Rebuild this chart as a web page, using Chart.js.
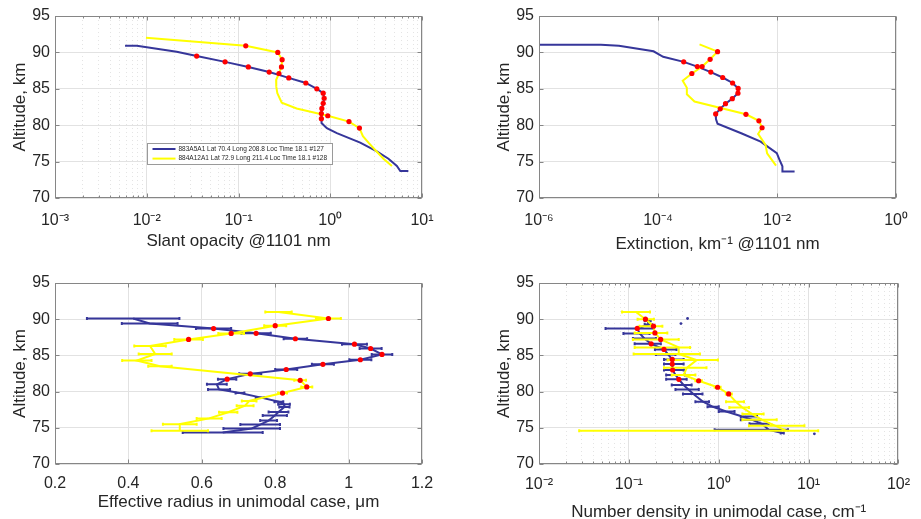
<!DOCTYPE html>
<html>
<head>
<meta charset="utf-8">
<script src="https://cdn.jsdelivr.net/npm/chart.js@4.4.0/dist/chart.umd.min.js"></script>
<style>
  html, body { margin: 0; padding: 0; background: #fff; width: 921px; height: 519px; overflow: hidden; }
  canvas { position: absolute; left: 0; top: 0; }
</style>
</head>
<body>
<canvas id="opacityChart" width="921" height="560"></canvas>
<canvas id="extinctionChart" width="921" height="560"></canvas>
<canvas id="radiusChart" width="921" height="560"></canvas>
<canvas id="densityChart" width="921" height="560"></canvas>
<script>
// profile names (legend)
const profileNames = [
  '883A5A1 Lat 70.4 Long 208.8 Loc Time 18.1 #127',
  '884A12A1 Lat 72.9 Long 211.4 Loc Time 18.1 #128'
];

// tick values and labels
const altTicks = [70, 75, 80, 85, 90, 95];
const altLabels = ['70', '75', '80', '85', '90', '95'];
const opacityTicks = [1e-3, 1e-2, 1e-1, 1, 10];
const opacityLabels = ['10⁻³', '10⁻²', '10⁻¹', '10⁰', '10¹'];
const extinctionTicks = [1e-6, 1e-4, 1e-2, 1];
const extinctionLabels = ['10⁻⁶', '10⁻⁴', '10⁻²', '10⁰'];
const radiusTicks = [0.2, 0.4, 0.6, 0.8, 1, 1.2];
const radiusLabels = ['0.2', '0.4', '0.6', '0.8', '1', '1.2'];
const densityTicks = [1e-2, 1e-1, 1, 10, 100];
const densityLabels = ['10⁻²', '10⁻¹', '10⁰', '10¹', '10²'];

// slant opacity
const opacityBlueAlt = [90.9, 90.9, 90.1, 89.5, 88.7, 88.0, 87.3, 86.5, 85.8, 85.0, 84.4, 83.7, 83.0, 82.3, 81.6, 80.9, 80.3, 79.6, 78.9, 77.6, 76.4, 75.4, 74.4, 73.7, 73.7];
const opacityBlueVal = [0.0058, 0.0078, 0.0212, 0.035, 0.0714, 0.128, 0.216, 0.353, 0.542, 0.714, 0.838, 0.858, 0.838, 0.81, 0.80, 0.80, 0.81, 0.918, 1.18, 2.12, 3.22, 4.31, 5.32, 5.8, 7.1];
const opacityBlueMarked = [3, 4, 5, 6, 7, 8, 9, 10, 11, 12, 13, 14, 15];
const opacityYellowAlt = [92.0, 90.9, 90.0, 89.0, 88.0, 87.1, 86.2, 85.3, 84.4, 83.1, 82.3, 81.3, 80.5, 79.6, 78.5, 77.6, 76.6, 75.4, 74.4];
const opacityYellowVal = [0.0098, 0.12, 0.268, 0.299, 0.294, 0.276, 0.257, 0.258, 0.265, 0.296, 0.43, 0.94, 1.6, 2.08, 2.27, 2.61, 3.09, 3.8, 4.7];
const opacityYellowMarked = [1, 2, 3, 4, 5, 11, 12, 13];

// extinction
const extBlueAlt = [91.05, 91.05, 90.9, 90.15, 89.4, 88.7, 88.05, 87.3, 86.55, 85.8, 85.05, 84.4, 83.65, 82.95, 82.25, 81.55, 80.85, 80.2, 78.9, 77.75, 76.15, 75.25, 74.35, 73.65, 73.65];
const extBlueVal = [1.0e-6, 1.1e-5, 2.2e-5, 8.4e-5, 1.22e-4, 2.7e-4, 4.57e-4, 7.7e-4, 1.22e-3, 1.79e-3, 2.22e-3, 2.2e-3, 1.77e-3, 1.36e-3, 1.11e-3, 9.3e-4, 9.4e-4, 1.0e-3, 2.5e-3, 5.3e-3, 9.9e-3, 1.1e-2, 1.23e-2, 1.23e-2, 1.97e-2];
const extBlueMarked = [5, 6, 7, 8, 9, 10, 11, 12, 13, 14, 15];
const extYellowAlt = [91.1, 90.1, 89.05, 88.05, 87.1, 86.1, 85.15, 84.25, 83.25, 81.5, 80.6, 79.65, 78.8, 77.3, 76.15, 74.45];
const extYellowVal = [4.98e-4, 1.0e-3, 7.5e-4, 5.5e-4, 3.7e-4, 2.6e-4, 3.05e-4, 3.05e-4, 4.1e-4, 3.0e-3, 4.95e-3, 5.6e-3, 4.8e-3, 6.4e-3, 6.8e-3, 9.6e-3];
const extYellowMarked = [1, 2, 3, 4, 9, 10, 11];

// effective radius (value +- error)
const radBlueAlt = [90.1, 89.4, 88.7, 88.05, 87.3, 86.55, 85.95, 85.14, 84.4, 83.77, 83.05, 82.45, 81.72, 81.0, 80.3, 79.8, 79.2, 78.6, 78.27, 77.86, 77.18, 76.7, 76.0, 75.45, 74.9, 74.35];
const radBlueVal = [0.413, 0.458, 0.632, 0.748, 0.855, 1.016, 1.06, 1.091, 1.032, 0.93, 0.83, 0.732, 0.669, 0.641, 0.647, 0.704, 0.759, 0.81, 0.824, 0.825, 0.809, 0.799, 0.782, 0.759, 0.736, 0.657];
const radBlueErr = [0.126, 0.076, 0.048, 0.04, 0.032, 0.034, 0.03, 0.028, 0.03, 0.03, 0.03, 0.03, 0.025, 0.027, 0.03, 0.012, 0.012, 0.012, 0.016, 0.014, 0.027, 0.033, 0.023, 0.054, 0.077, 0.109];
const radBlueMarked = [2, 3, 4, 5, 6, 7, 8, 9, 10, 11, 12];
const radYellowAlt = [91.0, 90.1, 89.1, 88.04, 87.2, 86.3, 85.2, 84.3, 83.5, 81.56, 80.65, 79.8, 78.7, 78.05, 77.14, 76.3, 75.5, 74.6];
const radYellowVal = [0.809, 0.945, 0.80, 0.68, 0.564, 0.459, 0.473, 0.423, 0.486, 0.868, 0.886, 0.82, 0.729, 0.718, 0.672, 0.62, 0.54, 0.54];
const radYellowErr = [0.036, 0.034, 0.03, 0.035, 0.039, 0.043, 0.045, 0.04, 0.032, 0.016, 0.015, 0.012, 0.02, 0.023, 0.025, 0.034, 0.046, 0.077];
const radYellowMarked = [1, 2, 3, 4, 9, 10, 11];

// number density (value with lower / upper bound)
const denBlueAlt = [89.77, 89.27, 88.72, 88.03, 87.34, 86.6, 85.83, 85.14, 84.45, 83.8, 82.98, 82.3, 81.7, 80.92, 80.3, 79.68, 78.6, 77.9, 77.25, 76.56, 76.1, 75.55, 74.72, 74.27];
const denBlueVal = [0.162, 0.165, 0.124, 0.132, 0.149, 0.177, 0.246, 0.273, 0.304, 0.304, 0.307, 0.331, 0.36, 0.406, 0.46, 0.522, 0.67, 0.863, 1.21, 1.83, 2.36, 3.03, 3.6, 5.1];
const denBlueLo = [0.15, 0.15, 0.055, 0.087, 0.111, 0.116, 0.195, 0.2, 0.246, 0.246, 0.246, 0.26, 0.26, 0.3, 0.33, 0.4, 0.55, 0.75, 1.0, 1.76, 1.76, 2.2, 0.9, 4.9];
const denBlueHi = [0.175, 0.18, 0.19, 0.17, 0.2, 0.227, 0.339, 0.33, 0.407, 0.407, 0.41, 0.42, 0.44, 0.5, 0.6, 0.66, 0.78, 1.0, 1.5, 2.67, 2.9, 3.6, 5.9, 5.3];
const denBlueMarked = [2, 5, 6, 8, 9, 10, 12];
const denBlueLoneAlt = [90.1, 89.4, 74.17];
const denBlueLoneVal = [0.45, 0.38, 11.6];
const denYellowAlt = [91.0, 90.0, 89.04, 88.1, 87.2, 86.1, 85.2, 84.36, 83.3, 82.3, 81.5, 80.6, 79.68, 78.6, 77.8, 76.9, 76.1, 75.3, 74.6];
const denYellowVal = [0.12, 0.153, 0.188, 0.195, 0.226, 0.359, 0.359, 0.569, 0.443, 0.407, 0.598, 0.971, 1.29, 1.55, 1.83, 2.36, 3.03, 4.23, 5.6];
const denYellowLo = [0.084, 0.125, 0.131, 0.116, 0.111, 0.116, 0.113, 0.27, 0.246, 0.3, 0.55, 0.9, 1.2, 1.207, 1.313, 1.834, 1.834, 2.17, 0.028];
const denYellowHi = [0.172, 0.19, 0.236, 0.268, 0.359, 0.48, 0.618, 0.98, 0.731, 0.55, 0.65, 1.05, 1.4, 1.91, 2.17, 3.16, 4.42, 8.99, 12.8];
const denYellowMarked = [1, 2, 3, 4, 10, 11, 12];

// styling
const FONT = '"Liberation Sans", Arial, Helvetica, sans-serif';
const TEXT = '#262626';
const BLUE = '#36369a';
const YELLOW = '#ffff00';
const RED = '#ff0000';
const FRAME = '#868686';
const MAJOR_GRID = '#e2e2e2';
const MINOR_GRID = '#e4e4e4';
const CANVAS_W = 921, CANVAS_H = 560;

function pts(alts, vals) {
  return alts.map((a, i) => ({x: vals[i], y: a}));
}
function pick(alts, vals, idx) {
  return idx.map(i => ({x: vals[i], y: alts[i]}));
}

function tickList(values, withMinor) {
  return axis => {
    const list = values.map(v => ({value: v}));
    if (withMinor) {
      for (let i = 0; i < values.length - 1; i++) {
        for (let k = 2; k <= 9; k++) list.push({value: values[i] * k, minor: true});
      }
    }
    list.sort((a, b) => a.value - b.value);
    axis.ticks = list;
  };
}
function tickLabel(values, labels) {
  return v => {
    const i = values.findIndex(t => Math.abs(t - v) <= Math.abs(t) * 1e-9);
    return i < 0 ? '' : labels[i];
  };
}

const gridOpts = {
  drawTicks: false,
  lineWidth: 1,
  color: ctx => (ctx.tick && ctx.tick.minor) ? MINOR_GRID : MAJOR_GRID
};
const borderOpts = {
  display: false,
  dash: ctx => (ctx.tick && ctx.tick.minor) ? [1, 3] : []
};

function altitudeAxis() {
  return {
    type: 'linear', min: 70, max: 95,
    afterBuildTicks: tickList(altTicks, false),
    afterFit: s => { s.width = 55; },
    ticks: {autoSkip: false, padding: 5, color: TEXT, font: {family: FONT, size: 16}, callback: tickLabel(altTicks, altLabels)},
    grid: gridOpts,
    border: borderOpts,
    title: {display: true, text: 'Altitude, km', color: TEXT, font: {family: FONT, size: 17}, padding: {top: 9.8, bottom: 0}}
  };
}

function valueAxis(type, min, max, values, labels, withMinor, title, area, titleY, tickPad) {
  return {
    type, min, max, position: 'bottom',
    afterBuildTicks: tickList(values, withMinor),
    afterFit: s => { s.height = CANVAS_H - area.b; },
    ticks: {autoSkip: false, maxRotation: 0, padding: tickPad, color: TEXT, font: {family: FONT, size: 16}, callback: tickLabel(values, labels)},
    grid: gridOpts,
    border: borderOpts,
    title: {display: true, text: title, color: TEXT, font: {family: FONT, size: 17}, padding: {top: 0, bottom: CANVAS_H - titleY - 10.2}}
  };
}

// horizontal error bars with small caps
const errorBarPlugin = {
  id: 'errorBars',
  beforeDatasetDraw(chart, args) {
    const ds = chart.data.datasets[args.index];
    if (!ds.errLo) return;
    const {ctx, chartArea: a, scales: {x, y}} = chart;
    ctx.save();
    ctx.beginPath();
    ctx.rect(a.left, a.top, a.width, a.height);
    ctx.clip();
    ctx.strokeStyle = ds.borderColor;
    ctx.lineWidth = ds.borderWidth;
    ds.data.forEach((p, i) => {
      const py = y.getPixelForValue(p.y);
      const x1 = x.getPixelForValue(ds.errLo[i]);
      const x2 = x.getPixelForValue(ds.errHi[i]);
      ctx.beginPath();
      ctx.moveTo(x1, py); ctx.lineTo(x2, py);
      ctx.moveTo(x1, py - 1.5); ctx.lineTo(x1, py + 1.5);
      ctx.moveTo(x2, py - 1.5); ctx.lineTo(x2, py + 1.5);
      ctx.stroke();
    });
    ctx.restore();
  }
};

// box around the axes with inward ticks
const framePlugin = {
  id: 'frame',
  afterDraw(chart) {
    const {ctx, chartArea: a, scales: {x, y}} = chart;
    const L = Math.round(a.left) + 0.5, R = Math.round(a.right) - 0.5;
    const T = Math.round(a.top) + 0.5, B = Math.round(a.bottom) - 0.5;
    ctx.save();
    ctx.strokeStyle = FRAME;
    ctx.lineWidth = 1;
    ctx.strokeRect(L, T, R - L, B - T);
    ctx.beginPath();
    x.ticks.forEach(t => {
      const px = Math.round(x.getPixelForValue(t.value)) + 0.5;
      const len = t.minor ? 2 : 4;
      ctx.moveTo(px, B); ctx.lineTo(px, B - len);
      ctx.moveTo(px, T); ctx.lineTo(px, T + len);
    });
    y.ticks.forEach(t => {
      const py = Math.round(y.getPixelForValue(t.value)) + 0.5;
      ctx.moveTo(L, py); ctx.lineTo(L + 4, py);
      ctx.moveTo(R, py); ctx.lineTo(R - 4, py);
    });
    ctx.stroke();
    ctx.restore();
  }
};

// legend box inside the first panel
const legendPlugin = {
  id: 'profileLegend',
  afterDraw(chart) {
    const {ctx, chartArea: a} = chart;
    const x0 = Math.round(a.left + 0.25 * a.width) + 0.5;
    const y0 = Math.round(a.top + 0.7 * a.height) + 0.5;
    const w = 185, h = 21;
    ctx.save();
    ctx.fillStyle = '#fff';
    ctx.fillRect(x0, y0, w, h);
    ctx.strokeStyle = '#9a9a9a';
    ctx.lineWidth = 1;
    ctx.strokeRect(x0, y0, w, h);
    ctx.font = '6.5px ' + FONT;
    ctx.textBaseline = 'middle';
    [BLUE, YELLOW].forEach((c, i) => {
      const yy = y0 + 5.5 + i * 9.6;
      ctx.strokeStyle = c;
      ctx.lineWidth = 2;
      ctx.beginPath();
      ctx.moveTo(x0 + 5, yy); ctx.lineTo(x0 + 28, yy);
      ctx.stroke();
      ctx.fillStyle = TEXT;
      ctx.fillText(profileNames[i], x0 + 31, yy);
    });
    ctx.restore();
  }
};

function lineSet(label, data, color, order, extra) {
  return Object.assign({label, data, showLine: true, borderColor: color, backgroundColor: color, borderWidth: 2, pointRadius: 0, tension: 0, order}, extra || {});
}
function markSet(data) {
  return {label: 'marked', data, showLine: false, pointRadius: 2.6, pointBorderWidth: 0, backgroundColor: RED, borderColor: RED, order: 0};
}

function makePanel(id, area, xAxis, datasets, extraPlugins) {
  return new Chart(document.getElementById(id), {
    type: 'scatter',
    data: {datasets},
    options: {
      responsive: false,
      animation: false,
      events: [],
      layout: {padding: {left: area.l - 55, top: area.t, right: CANVAS_W - area.r, bottom: 0}},
      plugins: {legend: {display: false}, tooltip: {enabled: false}},
      scales: {x: xAxis, y: altitudeAxis()}
    },
    plugins: [errorBarPlugin, framePlugin].concat(extraPlugins || [])
  });
}

// top left: slant opacity
const areaTL = {l: 55, t: 16, r: 422, b: 198};
makePanel('opacityChart', areaTL,
  valueAxis('logarithmic', 1e-3, 10, opacityTicks, opacityLabels, true, 'Slant opacity @1101 nm', areaTL, 241, 13),
  [
    markSet(pick(opacityBlueAlt, opacityBlueVal, opacityBlueMarked).concat(pick(opacityYellowAlt, opacityYellowVal, opacityYellowMarked))),
    lineSet(profileNames[1], pts(opacityYellowAlt, opacityYellowVal), YELLOW, 1),
    lineSet(profileNames[0], pts(opacityBlueAlt, opacityBlueVal), BLUE, 2)
  ],
  [legendPlugin]);

// top right: extinction
const areaTR = {l: 539, t: 16, r: 906, b: 198};
makePanel('extinctionChart', areaTR,
  valueAxis('logarithmic', 1e-6, 1, extinctionTicks, extinctionLabels, false, 'Extinction, km⁻¹ @1101 nm', areaTR, 244, 13),
  [
    markSet(pick(extBlueAlt, extBlueVal, extBlueMarked).concat(pick(extYellowAlt, extYellowVal, extYellowMarked))),
    lineSet(profileNames[1], pts(extYellowAlt, extYellowVal), YELLOW, 1),
    lineSet(profileNames[0], pts(extBlueAlt, extBlueVal), BLUE, 2)
  ]);

// bottom left: effective radius
const areaBL = {l: 55, t: 283, r: 422, b: 464};
makePanel('radiusChart', areaBL,
  valueAxis('linear', 0.2, 1.2, radiusTicks, radiusLabels, false, 'Effective radius in unimodal case, μm', areaBL, 502, 10),
  [
    markSet(pick(radBlueAlt, radBlueVal, radBlueMarked).concat(pick(radYellowAlt, radYellowVal, radYellowMarked))),
    lineSet(profileNames[1], pts(radYellowAlt, radYellowVal), YELLOW, 1, {
      errLo: radYellowVal.map((v, i) => v - radYellowErr[i]),
      errHi: radYellowVal.map((v, i) => v + radYellowErr[i])
    }),
    lineSet(profileNames[0], pts(radBlueAlt, radBlueVal), BLUE, 2, {
      errLo: radBlueVal.map((v, i) => v - radBlueErr[i]),
      errHi: radBlueVal.map((v, i) => v + radBlueErr[i])
    })
  ]);

// bottom right: number density
const areaBR = {l: 539, t: 283, r: 906, b: 464};
makePanel('densityChart', areaBR,
  valueAxis('logarithmic', 1e-2, 100, densityTicks, densityLabels, true, 'Number density in unimodal case, cm⁻¹', areaBR, 512, 11),
  [
    markSet(pick(denBlueAlt, denBlueVal, denBlueMarked).concat(pick(denYellowAlt, denYellowVal, denYellowMarked))),
    lineSet(profileNames[1], pts(denYellowAlt, denYellowVal), YELLOW, 1, {errLo: denYellowLo, errHi: denYellowHi}),
    lineSet(profileNames[0], pts(denBlueAlt, denBlueVal), BLUE, 2, {errLo: denBlueLo, errHi: denBlueHi}),
    {label: 'lone', data: pts(denBlueLoneAlt, denBlueLoneVal), showLine: false, pointRadius: 1.4, pointBorderWidth: 0, backgroundColor: BLUE, order: 2}
  ]);
</script>
</body>
</html>
